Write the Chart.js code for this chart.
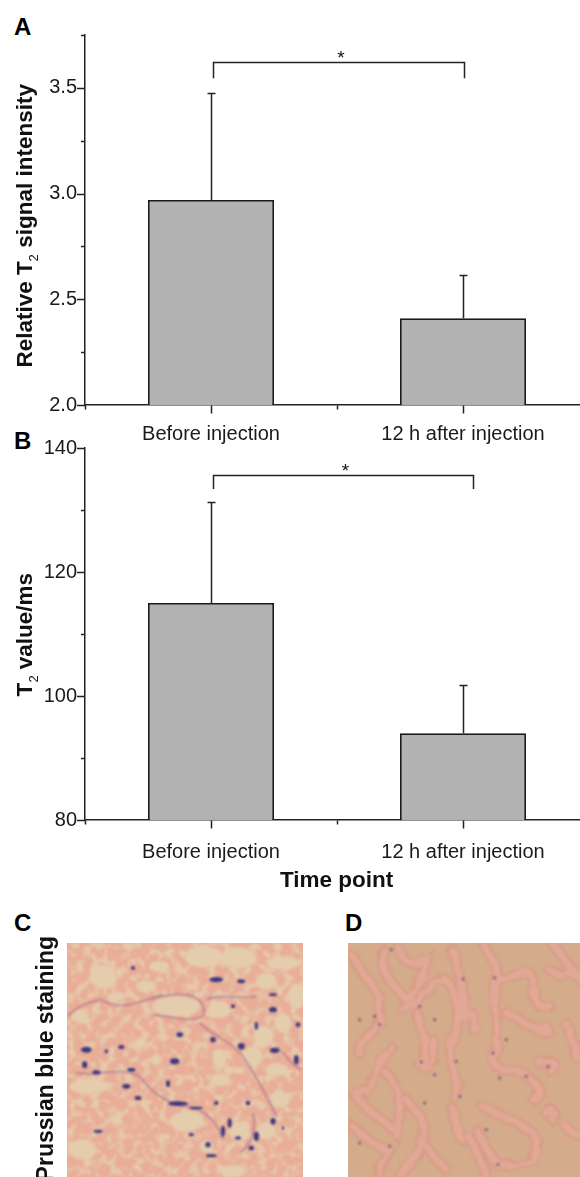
<!DOCTYPE html>
<html>
<head>
<meta charset="utf-8">
<script src="https://cdn.jsdelivr.net/npm/chart.js@4/dist/chart.umd.min.js"></script>
<style>
  html, body { margin: 0; padding: 0; background: #fff; }
  #page { position: relative; width: 580px; height: 1177px; overflow: hidden; font-family: "Liberation Sans", Arial, sans-serif; color: #111; }
  canvas { position: absolute; left: 0; }
  .letter { position: absolute; font-weight: bold; font-size: 24px; line-height: 24px; color: #000; }
  .ytitle { position: absolute; writing-mode: vertical-rl; transform: rotate(180deg); font-weight: bold; font-size: 22.5px; line-height: 22px; white-space: nowrap; color: #111; }
  .ytitle span { font-weight: normal; font-size: 13px; position: relative; left: -9px; margin: 0 3px; }
  .xtitle { position: absolute; font-weight: bold; font-size: 22.5px; line-height: 24px; white-space: nowrap; color: #111; }
  svg { position: absolute; top: 943px; }
</style>
</head>
<body>
<div id="page">
  <div class="letter" style="left:14px;top:15px">A</div>
  <div class="letter" style="left:14px;top:429px">B</div>
  <div class="letter" style="left:14px;top:911px">C</div>
  <div class="letter" style="left:345px;top:911px">D</div>

  <canvas id="chartA" width="589" height="445" style="top:0"></canvas>
  <canvas id="chartB" width="589" height="450" style="top:440px"></canvas>

  <div class="ytitle" style="left:14px;bottom:809px">Relative T<span>2</span> signal intensity</div>
  <div class="ytitle" style="left:14px;bottom:480px">T<span>2</span> value/ms</div>
  <div class="xtitle" style="left:280px;top:868px">Time point</div>
  <div class="ytitle" style="left:34px;bottom:-4px;font-size:23px">Prussian blue staining</div>

  <svg id="panelC" style="left:67px" width="236" height="234" viewBox="202 130 708 702"></svg>
  <svg id="panelD" style="left:348px" width="232" height="234" viewBox="85 130 696 702"></svg>
</div>

<script>
  const categories = ["Before injection", "12 h after injection"];

  const signalValues = [2.97, 2.41];
  const signalErrors = [0.505, 0.205];
  const signalTicks = [2.0, 2.25, 2.5, 2.75, 3.0, 3.25, 3.5, 3.75];
  const signalMajor = [2.0, 2.5, 3.0, 3.5];
  const signalBracket = [3.62, 3.545];

  const t2Values = [115, 94];
  const t2Errors = [16.3, 7.7];
  const t2Ticks = [80, 90, 100, 110, 120, 130, 140];
  const t2Major = [80, 100, 120, 140];
  const t2Bracket = [135.6, 133.4];

  // micrograph approximations, in zoomed crop coordinates
  const paleCells = [
    [610,170,55,32],[715,175,55,32],[850,190,50,20],[530,320,72,30],[800,245,32,25],[890,290,25,38],
    [660,330,32,26],[240,350,26,20],[310,230,40,35],[440,260,30,18],[790,410,30,32],[850,370,25,30],
    [830,510,32,20],[760,470,30,30],[660,480,20,30],[660,540,25,20],[270,560,60,22],[560,665,50,30],
    [720,695,30,30],[800,695,30,25],[840,600,30,25],[700,815,40,18],[250,750,40,30],[620,740,20,18],
    [350,660,16,16],[420,430,16,16],[470,480,16,16],[350,290,24,14],[480,200,30,16]
  ];
  const blueSpots = [
    [400,205,6,6],[650,240,20,8],[725,245,12,6],[820,285,12,4],[820,330,12,8],[700,320,6,6],[770,378,5,12],
    [895,375,7,7],[540,405,10,7],[640,420,8,8],[725,440,10,10],[825,452,14,8],[890,480,7,14],[260,450,16,9],
    [255,495,8,10],[290,518,12,6],[365,442,9,6],[320,455,5,6],[525,485,14,9],[395,510,12,6],[505,552,6,10],
    [380,560,12,7],[415,595,10,6],[535,612,30,7],[590,625,20,4],[650,610,7,6],[745,610,7,7],[690,670,6,14],
    [670,695,6,16],[820,665,8,10],[295,695,14,5],[715,715,9,5],[770,710,8,14],[755,745,8,7],[635,768,16,5],
    [575,705,8,5],[625,735,8,8],[850,685,4,5]
  ];
  const mauveStrands = [
    "M460 345 C510 350 560 370 610 350 C620 320 600 290 560 285 C530 280 480 290 450 300",
    "M490 285 C420 300 380 340 300 300 C260 310 230 320 205 350",
    "M620 300 C660 280 720 300 770 290 M600 370 C640 410 690 420 730 470 C760 520 790 560 830 650",
    "M230 520 C300 530 360 500 420 530 C450 570 490 610 560 620 C610 630 650 660 670 720",
    "M720 760 C760 730 770 690 760 640 M830 440 C860 470 880 500 905 510"
  ];
  const tissuePaths = [
    "M100 170 C150 280 190 240 180 370 C150 420 110 420 120 460",
    "M190 150 C180 230 220 250 260 300 C300 340 330 240 380 240 C430 300 420 400 390 440 C380 500 440 560 400 590",
    "M235 140 C250 200 290 200 320 180 C310 240 280 280 250 330",
    "M290 340 C320 420 330 470 300 490 C330 530 350 480 340 420",
    "M220 450 C170 470 180 560 110 590 C140 640 200 660 230 700 C250 620 240 560 200 520",
    "M400 150 C420 240 440 280 430 360 C450 320 470 340 460 390",
    "M490 130 C500 170 540 180 530 240 C520 330 540 420 520 480 C540 530 580 500 610 520 C660 560 680 580 640 600",
    "M540 240 C590 240 620 190 640 240 C640 300 650 330 690 320",
    "M560 340 C600 350 610 380 640 380 C680 400 700 420 680 380",
    "M660 490 C700 470 730 510 690 510 M740 370 C770 430 760 470 780 480",
    "M490 620 C540 650 590 660 640 700 C680 780 620 800 540 800 C500 760 490 720 470 690",
    "M400 630 C410 690 420 720 430 720 M450 710 C470 770 500 800 500 830",
    "M260 600 C300 660 320 640 310 720 C280 800 260 800 240 830 M320 740 C350 790 370 790 380 810",
    "M100 680 C150 730 200 760 220 740 C190 790 170 800 180 830",
    "M700 130 C730 180 760 210 780 240 M690 210 C720 230 750 230 780 220",
    "M740 680 C760 710 770 700 780 710 M680 640 C700 620 710 650 700 660"
  ];
  const tissueSpots = [
    [215,150],[300,320],[345,360],[120,360],[165,350],[430,238],[410,485],[345,525],[305,487],[525,235],[520,460],
    [560,420],[540,535],[620,530],[685,500],[315,610],[420,590],[500,690],[535,795],[210,740],[120,730],[180,375]
  ];

  function drawTicks(ctx, x, y, ticks, major) {
    ctx.beginPath();
    ticks.forEach(function (value) {
      const py = Math.round(y.getPixelForValue(value)) + 0.5;
      ctx.moveTo(x.left, py);
      ctx.lineTo(x.left - (major.indexOf(value) >= 0 ? 8 : 4), py);
    });
    const bottom = Math.round(y.bottom) + 0.5;
    const edges = [x.left, (x.getPixelForValue(0) + x.getPixelForValue(1)) / 2];
    edges.forEach(function (px) {
      ctx.moveTo(Math.round(px) + 0.5, bottom);
      ctx.lineTo(Math.round(px) + 0.5, bottom + 4);
    });
    categories.forEach(function (label, index) {
      const px = Math.round(x.getPixelForValue(index)) + 0.5;
      ctx.moveTo(px, bottom);
      ctx.lineTo(px, bottom + 8);
    });
    ctx.stroke();
  }

  function drawErrors(ctx, x, y, values, errors) {
    ctx.beginPath();
    values.forEach(function (value, index) {
      const px = Math.round(x.getPixelForValue(index)) + 0.5;
      const top = Math.round(y.getPixelForValue(value + errors[index])) + 0.5;
      ctx.moveTo(px, y.getPixelForValue(value));
      ctx.lineTo(px, top);
      ctx.moveTo(px - 4, top);
      ctx.lineTo(px + 4, top);
    });
    ctx.stroke();
  }

  function drawBracket(ctx, x, y, bracket, endIndex) {
    const left = Math.round(x.getPixelForValue(0.006)) + 0.5;
    const right = Math.round(x.getPixelForValue(endIndex)) + 0.5;
    const top = Math.round(y.getPixelForValue(bracket[0])) + 0.5;
    const foot = y.getPixelForValue(bracket[1]);
    ctx.beginPath();
    ctx.moveTo(left, foot);
    ctx.lineTo(left, top);
    ctx.lineTo(right, top);
    ctx.lineTo(right, foot);
    ctx.stroke();
    ctx.fillStyle = "#111";
    ctx.font = '19px "Liberation Sans"';
    ctx.textAlign = "center";
    ctx.textBaseline = "alphabetic";
    ctx.fillText("*", (left + right) / 2 + 2, top + 1);
  }

  function makeChart(id, config) {
    const annotations = {
      id: "annotations",
      afterDatasetsDraw: function (chart) {
        const ctx = chart.ctx;
        const x = chart.scales.x;
        const y = chart.scales.y;
        ctx.save();
        ctx.strokeStyle = "#222";
        ctx.lineWidth = 1.5;
        drawTicks(ctx, x, y, config.ticks, config.major);
        drawErrors(ctx, x, y, config.values, config.errors);
        drawBracket(ctx, x, y, config.bracket, config.bracketEnd);
        ctx.restore();
      }
    };

    return new Chart(document.getElementById(id).getContext("2d"), {
      type: "bar",
      data: {
        labels: categories,
        datasets: [{
          data: config.values,
          backgroundColor: "#b2b2b2",
          borderColor: "#1a1a1a",
          borderWidth: 1.8,
          borderSkipped: false,
          barPercentage: 0.5,
          categoryPercentage: 1
        }]
      },
      options: {
        responsive: false,
        animation: false,
        layout: { padding: { top: config.top, right: 0, bottom: 0, left: 0 } },
        plugins: { legend: { display: false }, tooltip: { enabled: false } },
        scales: {
          x: {
            grid: { display: false, drawTicks: false },
            border: { color: "#222", width: 1.5 },
            ticks: {
              color: "#1a1a1a",
              padding: config.labelPad,
              maxRotation: 0,
              autoSkip: false,
              font: { family: "Liberation Sans", size: 20 }
            },
            afterFit: function (scale) {
              scale.height = config.xHeight;
              scale.paddingLeft = 0;
              scale.paddingRight = 0;
            }
          },
          y: {
            min: config.min,
            max: config.max,
            afterBuildTicks: function (scale) {
              scale.ticks = config.ticks.map(function (value) { return { value: value }; });
            },
            grid: { display: false, drawTicks: false },
            border: { color: "#222", width: 1.5 },
            ticks: {
              color: "#1a1a1a",
              padding: 8,
              font: { family: "Liberation Sans", size: 20 },
              callback: function (value) {
                if (config.major.indexOf(value) < 0) return "";
                return config.decimals ? value.toFixed(config.decimals) : String(value);
              }
            },
            afterFit: function (scale) {
              scale.width = 85;
              scale.paddingTop = 0;
              scale.paddingBottom = 0;
            }
          }
        }
      },
      plugins: [annotations]
    });
  }

  function fillSvg(svg, markup) {
    svg.innerHTML = markup;
  }

  function drawPanelC() {
    let markup = '<defs>' +
      '<filter id="speckle" x="0" y="0" width="100%" height="100%" color-interpolation-filters="sRGB"><feTurbulence type="fractalNoise" baseFrequency="0.04" numOctaves="3" seed="7"/>' +
      '<feColorMatrix values="0 0 0 0 0.90  0 0 0 0 0.79  0 0 0 0 0.67  5 0 0 0 -2.3"/><feGaussianBlur stdDeviation="2.5"/></filter>' +
      '<filter id="soft"><feGaussianBlur stdDeviation="4"/></filter><filter id="softer"><feGaussianBlur stdDeviation="3"/></filter>' +
      '<filter id="strand"><feGaussianBlur stdDeviation="3"/></filter></defs>';
    markup += '<rect x="202" y="130" width="708" height="702" fill="#e9ad98"/>';
    markup += '<rect x="202" y="130" width="708" height="702" filter="url(#speckle)"/>';
    markup += '<g filter="url(#soft)" fill="#e4cdad">';
    paleCells.forEach(function (c) {
      markup += '<ellipse cx="' + c[0] + '" cy="' + c[1] + '" rx="' + c[2] + '" ry="' + c[3] + '"/>';
    });
    markup += '</g><g filter="url(#strand)" fill="none" stroke="#a86f8c" stroke-width="6" opacity="0.6">';
    mauveStrands.forEach(function (d) {
      markup += '<path d="' + d + '"/>';
    });
    markup += '</g><g filter="url(#softer)" fill="#35307e" opacity="0.95">';
    blueSpots.forEach(function (c) {
      markup += '<ellipse cx="' + c[0] + '" cy="' + c[1] + '" rx="' + c[2] + '" ry="' + c[3] + '"/>';
    });
    markup += '</g>';
    fillSvg(document.getElementById("panelC"), markup);
  }

  function drawPanelD() {
    let markup = '<defs><filter id="wiggle" x="-5%" y="-5%" width="110%" height="110%">' +
      '<feTurbulence type="fractalNoise" baseFrequency="0.03" numOctaves="2" seed="4" result="n"/>' +
      '<feDisplacementMap in="SourceGraphic" in2="n" scale="26"/><feGaussianBlur stdDeviation="3"/></filter>' +
      '<filter id="softer2"><feGaussianBlur stdDeviation="3"/></filter></defs>';
    markup += '<rect x="85" y="130" width="696" height="702" fill="#d4ab8b"/>';
    markup += '<g filter="url(#wiggle)" fill="none" stroke-linecap="round">';
    tissuePaths.forEach(function (d) {
      markup += '<path d="' + d + '" stroke="#d79c86" stroke-width="34"/>';
    });
    tissuePaths.forEach(function (d) {
      markup += '<path d="' + d + '" stroke="#e2a896" stroke-width="20"/>';
    });
    markup += '</g><g filter="url(#softer2)" fill="#6b5a7a" opacity="0.8">';
    tissueSpots.forEach(function (c) {
      markup += '<circle cx="' + c[0] + '" cy="' + c[1] + '" r="5"/>';
    });
    markup += '</g>';
    fillSvg(document.getElementById("panelD"), markup);
  }

  makeChart("chartA", {
    values: signalValues, errors: signalErrors, ticks: signalTicks, major: signalMajor,
    bracket: signalBracket, bracketEnd: 1.004, min: 2.0, max: 3.75, decimals: 1,
    top: 35, xHeight: 40, labelPad: 17
  });

  makeChart("chartB", {
    values: t2Values, errors: t2Errors, ticks: t2Ticks, major: t2Major,
    bracket: t2Bracket, bracketEnd: 1.04, min: 80, max: 140, decimals: 0,
    top: 8, xHeight: 70, labelPad: 20
  });

  drawPanelC();
  drawPanelD();
</script>
</body>
</html>
